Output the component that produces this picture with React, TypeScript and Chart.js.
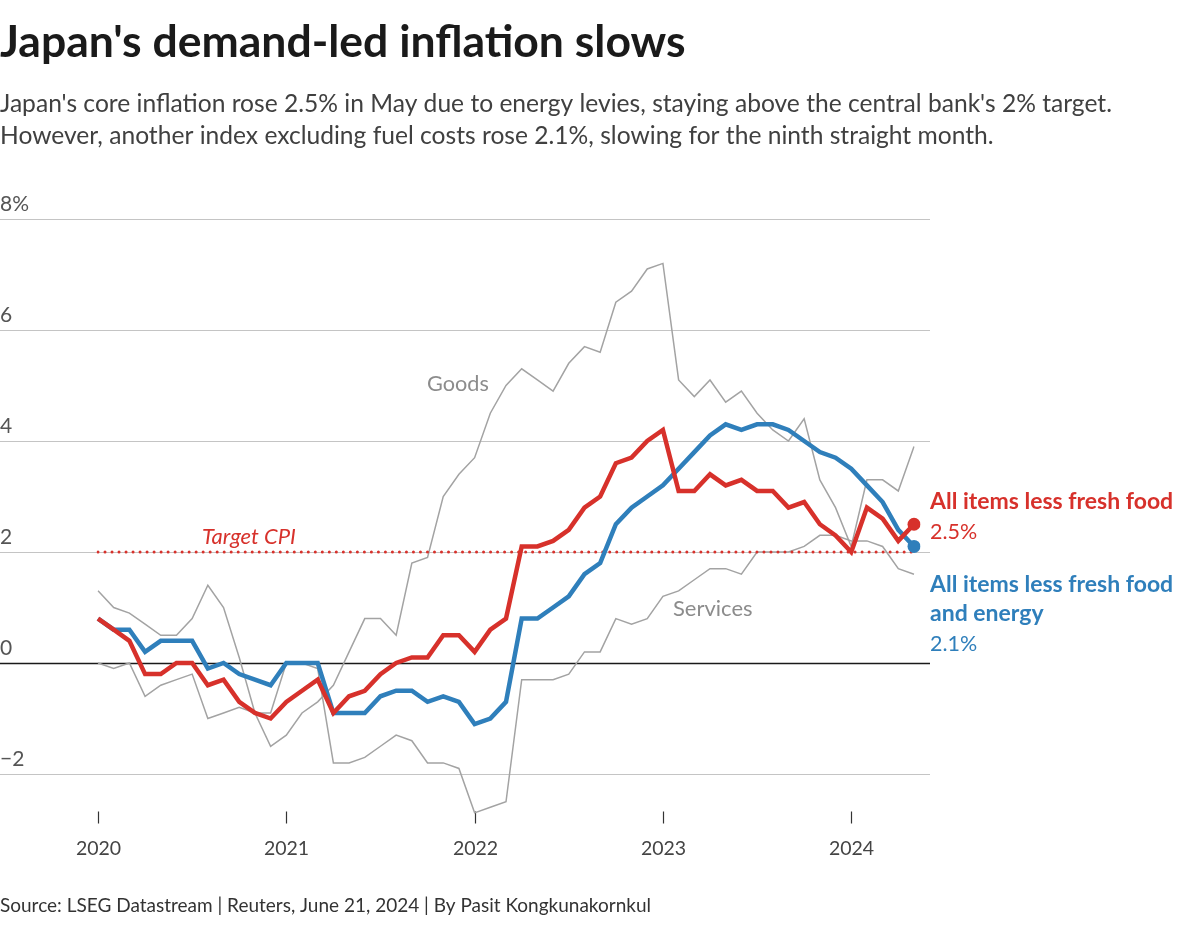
import React, { useEffect, useRef } from "react";
import { Chart, registerables } from "chart.js";

Chart.register(...registerables);

// Monthly, Jan 2020 – May 2024
const months = [
  "2020-01", "2020-02", "2020-03", "2020-04", "2020-05", "2020-06", "2020-07", "2020-08", "2020-09", "2020-10", "2020-11", "2020-12",
  "2021-01", "2021-02", "2021-03", "2021-04", "2021-05", "2021-06", "2021-07", "2021-08", "2021-09", "2021-10", "2021-11", "2021-12",
  "2022-01", "2022-02", "2022-03", "2022-04", "2022-05", "2022-06", "2022-07", "2022-08", "2022-09", "2022-10", "2022-11", "2022-12",
  "2023-01", "2023-02", "2023-03", "2023-04", "2023-05", "2023-06", "2023-07", "2023-08", "2023-09", "2023-10", "2023-11", "2023-12",
  "2024-01", "2024-02", "2024-03", "2024-04", "2024-05",
];

// All items less fresh food
const coreCPI = [
  0.8, 0.6, 0.4, -0.2, -0.2, 0.0, 0.0, -0.4, -0.3, -0.7, -0.9, -1.0,
  -0.7, -0.5, -0.3, -0.9, -0.6, -0.5, -0.2, 0.0, 0.1, 0.1, 0.5, 0.5,
  0.2, 0.6, 0.8, 2.1, 2.1, 2.2, 2.4, 2.8, 3.0, 3.6, 3.7, 4.0,
  4.2, 3.1, 3.1, 3.4, 3.2, 3.3, 3.1, 3.1, 2.8, 2.9, 2.5, 2.3,
  2.0, 2.8, 2.6, 2.2, 2.5,
];

// All items less fresh food and energy
const coreCoreCPI = [
  0.8, 0.6, 0.6, 0.2, 0.4, 0.4, 0.4, -0.1, 0.0, -0.2, -0.3, -0.4,
  0.0, 0.0, 0.0, -0.9, -0.9, -0.9, -0.6, -0.5, -0.5, -0.7, -0.6, -0.7,
  -1.1, -1.0, -0.7, 0.8, 0.8, 1.0, 1.2, 1.6, 1.8, 2.5, 2.8, 3.0,
  3.2, 3.5, 3.8, 4.1, 4.3, 4.2, 4.3, 4.3, 4.2, 4.0, 3.8, 3.7,
  3.5, 3.2, 2.9, 2.4, 2.1,
];

const goods = [
  1.3, 1.0, 0.9, 0.7, 0.5, 0.5, 0.8, 1.4, 1.0, 0.1, -0.9, -1.5,
  -1.3, -0.9, -0.7, -0.4, 0.2, 0.8, 0.8, 0.5, 1.8, 1.9, 3.0, 3.4,
  3.7, 4.5, 5.0, 5.3, 5.1, 4.9, 5.4, 5.7, 5.6, 6.5, 6.7, 7.1,
  7.2, 5.1, 4.8, 5.1, 4.7, 4.9, 4.5, 4.2, 4.0, 4.4, 3.3, 2.8,
  2.1, 3.3, 3.3, 3.1, 3.9,
];

const services = [
  0.0, -0.1, 0.0, -0.6, -0.4, -0.3, -0.2, -1.0, -0.9, -0.8, -0.9, -0.9,
  0.0, 0.0, -0.1, -1.8, -1.8, -1.7, -1.5, -1.3, -1.4, -1.8, -1.8, -1.9,
  -2.7, -2.6, -2.5, -0.3, -0.3, -0.3, -0.2, 0.2, 0.2, 0.8, 0.7, 0.8,
  1.2, 1.3, 1.5, 1.7, 1.7, 1.6, 2.0, 2.0, 2.0, 2.1, 2.3, 2.3,
  2.2, 2.2, 2.1, 1.7, 1.6,
];

const targetCPI = 2;

const yTickValues = [8, 6, 4, 2, 0, -2];
const yTickLabels = ["8%", "6", "4", "2", "0", "\u22122"];
const xTickMonths = ["2020-01", "2021-01", "2022-01", "2023-01", "2024-01"];
const xTickLabels = ["2020", "2021", "2022", "2023", "2024"];

const RED = "#d7312b";
const BLUE = "#2f7fbb";
const GRAY = "#a3a3a3";
const FONT = "Lato";

const decorPlugin = {
  id: "decor",
  beforeDatasetsDraw(chart: any) {
    const ctx = chart.ctx;
    const y = chart.scales.y;
    const x = chart.scales.x;
    ctx.save();
    yTickValues.forEach((v, i) => {
      const py = Math.round(y.getPixelForValue(v)) + 0.5;
      ctx.beginPath();
      ctx.moveTo(0, py);
      ctx.lineTo(930, py);
      ctx.lineWidth = v === 0 ? 1.5 : 1.2;
      ctx.strokeStyle = v === 0 ? "#1a1a1a" : "#c4c4c4";
      ctx.stroke();
      ctx.font = `21px ${FONT}`;
      ctx.fillStyle = "#555";
      ctx.textAlign = "left";
      ctx.textBaseline = "alphabetic";
      ctx.fillText(yTickLabels[i], 0, py - 8.5);
    });
    const bottom = chart.chartArea.bottom;
    xTickMonths.forEach((m, i) => {
      const px = Math.round(x.getPixelForValue(months.indexOf(m))) + 0.5;
      ctx.beginPath();
      ctx.moveTo(px, bottom - 18);
      ctx.lineTo(px, bottom - 6);
      ctx.lineWidth = 1.2;
      ctx.strokeStyle = "#333";
      ctx.stroke();
      ctx.font = `19.5px ${FONT}`;
      ctx.fillStyle = "#444";
      ctx.textAlign = "center";
      ctx.fillText(xTickLabels[i], px, bottom + 25);
    });
    ctx.restore();
  },
  afterDraw(chart: any) {
    const ctx = chart.ctx;
    ctx.save();
    ctx.textBaseline = "alphabetic";
    ctx.textAlign = "left";
    const t = (s: string, x: number, y: number, font: string, color: string) => {
      ctx.font = font;
      ctx.fillStyle = color;
      ctx.fillText(s, x, y);
    };
    t("Japan's demand-led inflation slows", 0, 57, `bold 44.5px ${FONT}`, "#1a1a1a");
    t("Japan's core inflation rose 2.5% in May due to energy levies, staying above the central bank's 2% target.", 0, 112, `24.6px ${FONT}`, "#404040");
    t("However, another index excluding fuel costs rose 2.1%, slowing for the ninth straight month.", 0, 144, `24.6px ${FONT}`, "#404040");
    t("Source: LSEG Datastream | Reuters, June 21, 2024 | By Pasit Kongkunakornkul", 0, 912, `19px ${FONT}`, "#333");
    t("Goods", 427, 391, `21.7px ${FONT}`, "#8c8c8c");
    t("Services", 673, 616, `22px ${FONT}`, "#8c8c8c");
    t("Target CPI", 202, 544, `italic 22px ${FONT}`, RED);
    t("All items less fresh food", 930, 509, `bold 23px ${FONT}`, RED);
    t("2.5%", 930, 539, `21.5px ${FONT}`, RED);
    t("All items less fresh food", 930, 592, `bold 23px ${FONT}`, BLUE);
    t("and energy", 930, 621, `bold 23px ${FONT}`, BLUE);
    t("2.1%", 930, 651, `21.5px ${FONT}`, BLUE);
    ctx.restore();
  },
};

const lastOnly = (r: number) => (c: any) => (c.dataIndex === months.length - 1 ? r : 0);

export default function App() {
  const ref = useRef<HTMLCanvasElement>(null);
  useEffect(() => {
    if (!ref.current) return;
    const chart = new Chart(ref.current, {
      type: "line",
      data: {
        labels: months,
        datasets: [
          {
            label: "All items less fresh food",
            data: coreCPI,
            borderColor: RED,
            backgroundColor: RED,
            borderWidth: 4.5,
            pointRadius: lastOnly(6.5),
            pointBorderWidth: 0,
            tension: 0,
          },
          {
            label: "All items less fresh food and energy",
            data: coreCoreCPI,
            borderColor: BLUE,
            backgroundColor: BLUE,
            borderWidth: 4.5,
            pointRadius: lastOnly(6.5),
            pointBorderWidth: 0,
            tension: 0,
          },
          {
            label: "Target CPI",
            data: [
              { x: months[0], y: targetCPI },
              { x: months[months.length - 1], y: targetCPI },
            ],
            borderColor: RED,
            borderWidth: 3,
            borderDash: [0.01, 7],
            borderCapStyle: "round",
            pointRadius: 0,
          },
          {
            label: "Goods",
            data: goods,
            borderColor: GRAY,
            borderWidth: 1.5,
            pointRadius: 0,
          },
          {
            label: "Services",
            data: services,
            borderColor: GRAY,
            borderWidth: 1.5,
            pointRadius: 0,
          },
        ],
      },
      options: {
        responsive: false,
        animation: false,
        layout: { padding: { left: 98, right: 286, top: 191.25, bottom: 95.5 } },
        plugins: { legend: { display: false }, tooltip: { enabled: false }, title: { display: false } },
        scales: {
          x: { type: "category", display: false, offset: false },
          y: { type: "linear", display: false, min: -3, max: 8.5 },
        },
        elements: { line: { borderJoinStyle: "miter" } },
      },
      plugins: [decorPlugin],
    });
    return () => chart.destroy();
  }, []);
  return (
    <div style={{ position: "absolute", left: 0, top: 0, width: 1200, height: 925, background: "#fff" }}>
      <canvas ref={ref} width={1200} height={925} style={{ width: 1200, height: 925, display: "block" }} />
    </div>
  );
}
